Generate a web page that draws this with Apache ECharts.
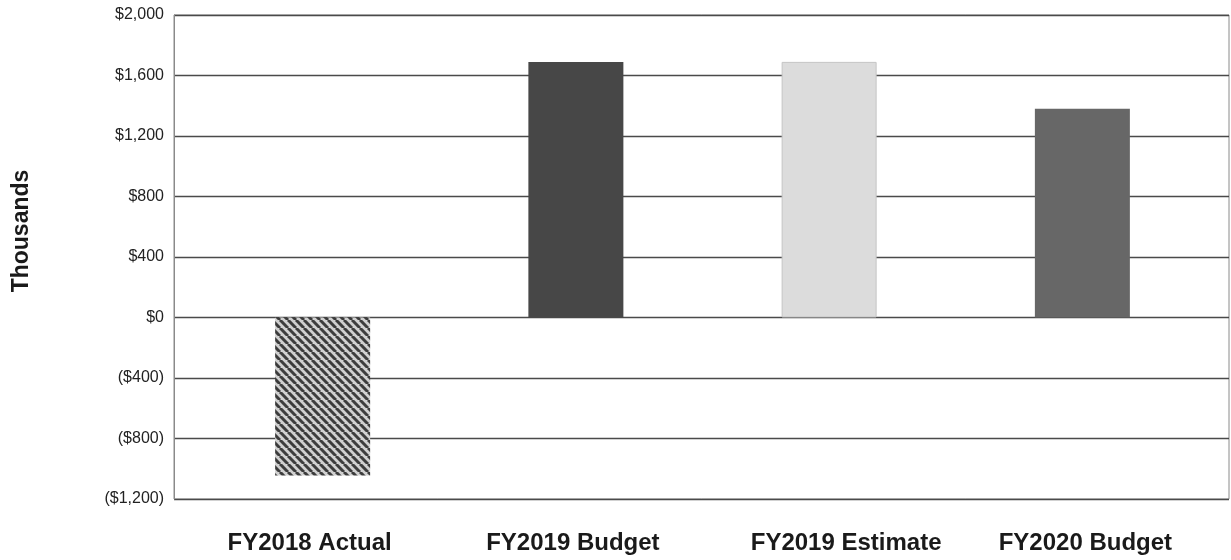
<!DOCTYPE html>
<html>
<head>
<meta charset="utf-8">
<script src="https://cdn.jsdelivr.net/npm/echarts@6/dist/echarts.min.js"></script>
<style>html,body{margin:0;padding:0;background:#fff;}#c{width:1231px;height:560px;}</style>
</head>
<body>
<div id="c"></div>
<script>
const categories = ['FY2018 Actual', 'FY2019 Budget', 'FY2019 Estimate', 'FY2020 Budget'];
const values = [-1045, 1690, 1690, 1380];
const yMin = -1200, yMax = 2000, yStep = 400;
const axisTitle = 'Thousands';

function hatch() {
  const s = 8;
  const c = document.createElement('canvas');
  c.width = s; c.height = s;
  const g = c.getContext('2d');
  g.fillStyle = '#d0d0d0';
  g.fillRect(0, 0, s, s);
  g.strokeStyle = '#3c3c3c';
  g.lineWidth = 3;
  for (let k = -1; k <= 1; k++) {
    g.beginPath();
    g.moveTo(k * s, 0);
    g.lineTo(k * s + s, s);
    g.stroke();
  }
  return { image: c, repeat: 'repeat' };
}

const barStyles = [
  { color: hatch() },
  { color: '#474747' },
  { color: '#dcdcdc', borderColor: '#c4c4c4', borderWidth: 1 },
  { color: '#676767' }
];
const labelPads = [[0, 26, 0, 0], [0, 6, 0, 0], [0, 0, 0, 34], [0, 0, 0, 6]];
const labelFont = { fontSize: 24, fontWeight: 'bold', fontFamily: 'Liberation Sans, Arial, sans-serif', color: '#1a1a1a' };

function money(v) {
  const s = '$' + Math.abs(v).toLocaleString('en-US');
  return v < 0 ? '(' + s + ')' : s;
}

const chart = echarts.init(document.getElementById('c'));
chart.setOption({
  animation: false,
  backgroundColor: '#fff',
  grid: [
    { left: 174, right: 2, top: 15, bottom: 61, show: true, borderColor: '#8a8a8a', borderWidth: 1 },
    { left: 196, right: 22, top: 15, bottom: 61 }
  ],
  xAxis: [
    { type: 'category', gridIndex: 0, data: categories, show: false },
    {
      type: 'category', gridIndex: 1, data: categories,
      axisLine: { show: false }, axisTick: { show: false },
      axisLabel: {
        margin: 32,
        formatter: function (v, i) { return '{l' + i + '|' + v + '}'; },
        rich: {
          l0: Object.assign({ padding: labelPads[0] }, labelFont),
          l1: Object.assign({ padding: labelPads[1] }, labelFont),
          l2: Object.assign({ padding: labelPads[2] }, labelFont),
          l3: Object.assign({ padding: labelPads[3] }, labelFont)
        }
      }
    }
  ],
  yAxis: [
    {
      type: 'value', gridIndex: 0, min: yMin, max: yMax, interval: yStep,
      axisLine: { show: true, lineStyle: { color: '#8a8a8a', width: 1 } },
      axisTick: { show: false },
      splitLine: { show: true, lineStyle: { color: '#4a4a4a', width: 1.3 } },
      axisLabel: { formatter: money, fontSize: 16, color: '#222', margin: 10, fontFamily: 'Liberation Sans, Arial, sans-serif' }
    },
    { type: 'value', gridIndex: 1, min: yMin, max: yMax, interval: yStep, show: false, splitLine: { show: false } }
  ],
  graphic: [{
    type: 'text', x: 22, y: 231, rotation: Math.PI / 2,
    style: { text: axisTitle, align: 'center', verticalAlign: 'middle', font: 'bold 23px "Liberation Sans", Arial, sans-serif', fill: '#1a1a1a' }
  }],
  series: [{
    type: 'bar', xAxisIndex: 1, yAxisIndex: 1, barWidth: 95,
    data: values.map((v, i) => ({ value: v, itemStyle: barStyles[i] }))
  }]
});
</script>
</body>
</html>
